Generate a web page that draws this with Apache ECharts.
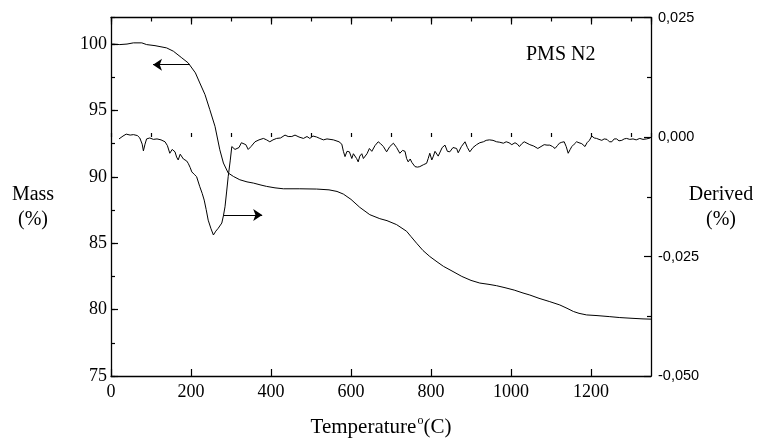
<!DOCTYPE html>
<html><head><meta charset="utf-8">
<script src="https://cdn.jsdelivr.net/npm/echarts@6/dist/echarts.min.js"></script>
<style>html,body{margin:0;padding:0;background:#fff}#c{width:760px;height:440px}</style>
</head><body><div id="c"></div>
<script>
// Temperature (°C) vs Mass (%)
const massData = [
[3,100.0],[22,99.96],[40,100.0],[56,100.09],[77,100.09],[89,99.96],[110,99.88],[139,99.71],[156,99.46],
[177,98.96],[193,98.58],[211,97.83],[222,97.07],[235,96.19],[247,95.06],[260,93.8],[272,92.04],
[281,91.04],[293,90.29],[306,90.03],[322,89.78],[340,89.62],[356,89.53],[375,89.38],[389,89.28],
[410,89.17],[431,89.1],[472,89.1],[514,89.08],[545,89.02],[565,88.9],[581,88.7],[600,88.3],
[622,87.7],[647,87.15],[672,86.85],[690,86.7],[714,86.4],[739,85.9],[750,85.5],[764,85.0],
[780,84.45],[797,84.0],[815,83.6],[831,83.26],[850,82.95],[877,82.5],[900,82.2],[922,82.0],
[945,81.9],[964,81.8],[985,81.65],[1008,81.47],[1030,81.25],[1047,81.1],[1070,80.85],[1097,80.6],
[1122,80.35],[1140,80.1],[1156,79.86],[1170,79.72],[1189,79.6],[1215,79.55],[1247,79.47],
[1272,79.4],[1300,79.35],[1330,79.3],[1350,79.28]
];
// Temperature (°C) vs derived (%)
const derivedData = [
[20,-0.0004],[30,0.0002],[38,0.0006],[48,0.0004],[56,0.0005],[66,0.0003],[72,-0.0002],[78,-0.0015],
[81,-0.0029],[85,-0.0015],[89,-0.0004],[97,-0.0002],[106,-0.0005],[115,-0.0004],[125,-0.0006],
[135,-0.0010],[141,-0.0018],[147,-0.0034],[153,-0.0026],[160,-0.0031],[164,-0.0042],[168,-0.0048],
[173,-0.0036],[177,-0.0038],[181,-0.0046],[185,-0.0048],[189,-0.0050],[193,-0.0055],[198,-0.0064],
[202,-0.0073],[208,-0.0078],[214,-0.0083],[222,-0.0104],[228,-0.0118],[233,-0.0132],[238,-0.0152],
[243,-0.0174],[250,-0.0192],[256,-0.0205],[262,-0.0197],[268,-0.0191],[277,-0.0180],[281,-0.0165],
[285,-0.0146],[289,-0.0115],[293,-0.0083],[298,-0.0050],[302,-0.0020],[306,-0.0017],[310,-0.0026],
[314,-0.0029],[320,-0.0022],[326,-0.0012],[331,-0.0010],[337,-0.0016],[343,-0.0026],[350,-0.0020],
[360,-0.0010],[370,-0.0006],[381,-0.0003],[389,-0.0006],[397,-0.0010],[405,-0.0006],[414,-0.0003],
[424,-0.0002],[435,0.0004],[443,0.0001],[452,0.0001],[460,0.0004],[470,0.0000],[481,-0.0003],
[490,0.0001],[497,-0.0003],[505,0.0002],[514,0.0000],[522,-0.0003],[531,-0.0006],[540,-0.0004],
[556,-0.0006],[570,-0.0010],[577,-0.0015],[581,-0.0030],[585,-0.0041],[590,-0.0030],[596,-0.0031],
[602,-0.0045],[606,-0.0035],[610,-0.0034],[614,-0.0045],[618,-0.0052],[622,-0.0040],[627,-0.0035],
[631,-0.0045],[635,-0.0048],[640,-0.0035],[646,-0.0024],[652,-0.0030],[660,-0.0018],[668,-0.0010],
[674,-0.0014],[681,-0.0020],[689,-0.0031],[697,-0.0020],[706,-0.0013],[714,-0.0022],[722,-0.0034],
[729,-0.0028],[735,-0.0030],[739,-0.0045],[743,-0.0052],[748,-0.0046],[752,-0.0053],[760,-0.0062],
[766,-0.0063],[772,-0.0062],[781,-0.0058],[789,-0.0055],[793,-0.0045],[797,-0.0034],[802,-0.0048],
[806,-0.0040],[810,-0.0030],[814,-0.0028],[818,-0.0040],[822,-0.0036],[828,-0.0022],[835,-0.0017],
[841,-0.0030],[847,-0.0031],[855,-0.0022],[864,-0.0024],[868,-0.0033],[876,-0.0020],[885,-0.0010],
[891,-0.0022],[897,-0.0031],[905,-0.0022],[914,-0.0016],[922,-0.0012],[931,-0.0010],[938,-0.0007],
[946,-0.0006],[955,-0.0007],[964,-0.0010],[972,-0.0011],[981,-0.0013],[988,-0.0010],[995,-0.0012],
[1002,-0.0016],[1010,-0.0012],[1016,-0.0015],[1021,-0.0020],[1027,-0.0014],[1033,-0.0010],
[1040,-0.0013],[1047,-0.0016],[1057,-0.0019],[1067,-0.0024],[1075,-0.0020],[1083,-0.0016],
[1090,-0.0017],[1097,-0.0017],[1104,-0.0020],[1110,-0.0024],[1116,-0.0018],[1121,-0.0013],
[1127,-0.0011],[1133,-0.0010],[1138,-0.0020],[1143,-0.0034],[1148,-0.0026],[1152,-0.0020],
[1158,-0.0015],[1164,-0.0010],[1170,-0.0012],[1177,-0.0014],[1185,-0.0020],[1190,-0.0012],
[1196,-0.0007],[1202,0.0002],[1208,-0.0002],[1214,-0.0003],[1220,-0.0005],[1227,-0.0007],
[1233,-0.0004],[1240,-0.0005],[1246,-0.0010],[1252,-0.0010],[1258,-0.0004],[1264,-0.0004],
[1270,-0.0008],[1277,-0.0007],[1283,-0.0004],[1289,-0.0003],[1297,-0.0005],[1305,-0.0004],
[1313,-0.0006],[1322,-0.0003],[1330,-0.0005],[1339,-0.0004],[1348,-0.0002]
];
// annotation arrows (data coordinates: [temperature, value])
const massArrow = [[197, 98.45], [105, 98.45]];
const derivedArrow = [[281, -0.0163], [378, -0.0163]];

const xRange = [0, 1350];
const massRange = [75, 102];
const derivedRange = [-0.05, 0.025];

const serif = '"Liberation Serif", "Times New Roman", serif';
const sans = '"Liberation Sans", Arial, sans-serif';
const black = '#000';

const chart = echarts.init(document.getElementById('c'), null, {renderer: 'canvas'});
const axisLine = {show: true, onZero: false, lineStyle: {color: black, width: 1.3}};
const noLine = {show: false};
function xAx(pos, interval, len, labels, extra) {
  return Object.assign({
    type: 'value', position: pos, min: xRange[0], max: xRange[1], interval: interval,
    axisLine: len === 7 ? axisLine : noLine,
    axisTick: {show: true, inside: true, length: len, lineStyle: {color: black, width: 1.2}},
    axisLabel: labels ? {show: true, showMaxLabel: false, color: black, fontFamily: serif, fontSize: 18, margin: 7,
      formatter: v => String(v)} : {show: false},
    splitLine: {show: false}
  }, extra || {});
}
function arrowLine(pts) {
  return {
    silent: true, symbol: ['none', 'arrow'], symbolSize: 9,
    label: {show: false}, lineStyle: {color: black, width: 1, type: 'solid', opacity: 1},
    itemStyle: {color: black},
    emphasis: {disabled: true},
    data: [[{coord: pts[0]}, {coord: pts[1]}]]
  };
}
const option = {
  animation: false,
  backgroundColor: '#fff',
  grid: {left: 111, right: 109, top: 17.5, bottom: 64, containLabel: false, outerBoundsMode: 'none'},
  title: {
    text: 'PMS N2', left: 521, top: 40,
    textStyle: {fontFamily: serif, fontSize: 20, fontWeight: 'normal', color: black}
  },
  xAxis: [
    xAx('bottom', 200, 7, true, {
      name: '{a|Temperature}{s|o}{a|(C)}', nameLocation: 'middle', nameGap: 39,
      nameTextStyle: {rich: {
        a: {fontFamily: serif, fontSize: 21, color: black, lineHeight: 24},
        s: {fontFamily: serif, fontSize: 12, color: black, verticalAlign: 'top', lineHeight: 12, padding: [0, 0, 0, 1]}
      }}
    }),
    xAx('bottom', 100, 4, false),
    xAx('top', 200, 7, false),
    xAx('top', 100, 4, false)
  ],
  yAxis: [
    {
      type: 'value', position: 'left', min: massRange[0], max: massRange[1], interval: 5,
      axisLine: axisLine,
      axisTick: {show: true, inside: true, length: 7, lineStyle: {color: black, width: 1.2}},
      axisLabel: {show: true, showMaxLabel: false, color: black, fontFamily: serif, fontSize: 18, margin: 4},
      splitLine: {show: false}
    },
    {
      type: 'value', position: 'right', min: derivedRange[0], max: derivedRange[1], interval: 0.025,
      axisLine: axisLine,
      axisTick: {show: true, inside: true, length: 7, lineStyle: {color: black, width: 1.2}},
      minorTick: {show: true, splitNumber: 2, length: 4, lineStyle: {color: black, width: 1.2}},
      axisLabel: {show: true, color: black, fontFamily: sans, fontSize: 14.5, margin: 7,
        formatter: v => v.toFixed(3).replace('.', ',')},
      splitLine: {show: false}, minorSplitLine: {show: false}
    },
    {
      type: 'value', position: 'left', min: massRange[0], max: massRange[1], interval: 2.5,
      axisLine: noLine,
      axisTick: {show: true, inside: true, length: 4, lineStyle: {color: black, width: 1.2}},
      axisLabel: {show: false}, splitLine: {show: false}
    }
  ],
  graphic: [
    {type: 'text', x: 33, y: 207, style: {text: 'Mass\n(%)', fontFamily: serif, fontSize: 20, lineHeight: 25,
      fill: black, textAlign: 'center', textVerticalAlign: 'middle'}},
    {type: 'text', x: 721, y: 207, style: {text: 'Derived\n(%)', fontFamily: serif, fontSize: 20, lineHeight: 25,
      fill: black, textAlign: 'center', textVerticalAlign: 'middle'}}
  ],
  series: [
    {
      type: 'line', name: 'Mass', xAxisIndex: 0, yAxisIndex: 0, data: massData,
      symbol: 'none', smooth: false, lineStyle: {color: black, width: 1},
      markLine: arrowLine(massArrow)
    },
    {
      type: 'line', name: 'Derived', xAxisIndex: 0, yAxisIndex: 1, data: derivedData,
      symbol: 'none', smooth: false, lineStyle: {color: black, width: 1},
      markLine: arrowLine(derivedArrow)
    }
  ]
};
chart.setOption(option);
</script></body></html>
